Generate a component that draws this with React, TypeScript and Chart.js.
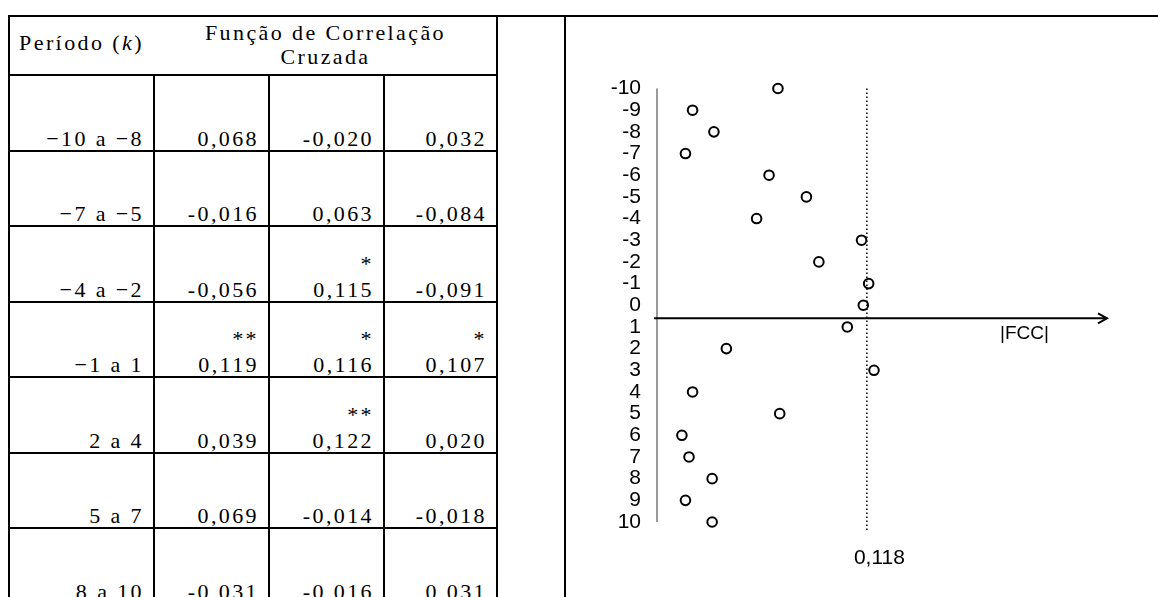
import React, { useEffect, useRef } from "react";
import { Chart, registerables } from "chart.js";

Chart.register(...registerables);

// ---------------- data ----------------
const LAGS = [-10, -9, -8, -7, -6, -5, -4, -3, -2, -1, 0, 1, 2, 3, 4, 5, 6, 7, 8, 9, 10];
const FCC = [
  0.068, -0.020, 0.032,
  -0.016, 0.063, -0.084,
  -0.056, 0.115, -0.091,
  0.119, 0.116, 0.107,
  0.039, 0.122, 0.020,
  0.069, -0.014, -0.018,
  -0.031, -0.016, 0.031,
];
const SIGNIF = [
  "", "", "",
  "", "", "",
  "", "*", "",
  "**", "*", "*",
  "", "**", "",
  "", "", "",
  "", "", "",
];
const Y_TICKS = LAGS;
const THRESHOLD = 0.118;
const THRESHOLD_LABEL = "0,118";
const AXIS_LABEL = "|FCC|";
const HEADER_PERIOD = "Período";
const HEADER_PERIOD_VAR = "k";
const HEADER_FCC = ["Função de Correlação", "Cruzada"];
const X_MAX = 0.253;
const AXIS_CROSS_K = 0.6;

// ---------------- layout ----------------
const SERIF = "'Liberation Serif', 'Times New Roman', serif";
const SANS = "'Liberation Sans', Arial, sans-serif";
const LINE = 2;
const TOP_Y = 15;
const HEADER_Y = 74;
const ROW_H = 75.5;
const COL_LINES = [8, 153, 268, 383, 496];
const DIVIDER_X = 564;
const LETTER = "2.4px";
const FONT_PX = 22;

const lineY = (i: number) => Math.round(HEADER_Y + ROW_H * i);
const fmtVal = (v: number) => v.toFixed(3).replace(".", ",");
const fmtLag = (k: number) => (k < 0 ? "\u2212" + Math.abs(k) : String(k));

const GROUPS: number[][] = [];
for (let i = 0; i < LAGS.length; i += 3) GROUPS.push([i, i + 1, i + 2]);

const bar = (left: number, top: number, width: number, height: number, key: string) => (
  <div key={key} style={{ position: "absolute", left, top, width, height, background: "#000" }} />
);

function FccChart() {
  const ref = useRef<HTMLCanvasElement | null>(null);
  useEffect(() => {
    if (!ref.current) return;
    const overlay = {
      id: "fccOverlay",
      beforeDatasetsDraw(chart: any) {
        const ctx = chart.ctx;
        const xs = chart.scales.x;
        const ys = chart.scales.y;
        const x0 = xs.getPixelForValue(0);
        const yTop = ys.getPixelForValue(Y_TICKS[0]);
        const yBot = ys.getPixelForValue(Y_TICKS[Y_TICKS.length - 1]);
        ctx.save();
        // vertical axis (gray)
        ctx.strokeStyle = "#808080";
        ctx.lineWidth = 1.6;
        ctx.beginPath();
        ctx.moveTo(x0, yTop);
        ctx.lineTo(x0, yBot);
        ctx.stroke();
        // threshold dotted line
        const xt = xs.getPixelForValue(THRESHOLD);
        ctx.strokeStyle = "#000";
        ctx.lineWidth = 1.5;
        ctx.setLineDash([1.6, 2.4]);
        ctx.beginPath();
        ctx.moveTo(xt, yTop);
        ctx.lineTo(xt, yBot + 9);
        ctx.stroke();
        ctx.setLineDash([]);
        // horizontal axis with arrow
        const ya = ys.getPixelForValue(AXIS_CROSS_K);
        const xe = xs.getPixelForValue(X_MAX);
        ctx.strokeStyle = "#000";
        ctx.lineWidth = 2;
        ctx.beginPath();
        ctx.moveTo(x0 - 3, ya);
        ctx.lineTo(xe, ya);
        ctx.stroke();
        ctx.beginPath();
        ctx.moveTo(xe - 9, ya - 5);
        ctx.lineTo(xe, ya);
        ctx.lineTo(xe - 9, ya + 5);
        ctx.stroke();
        // labels
        ctx.fillStyle = "#000";
        ctx.font = "21px " + SANS;
        ctx.textBaseline = "middle";
        ctx.textAlign = "left";
        ctx.fillText(THRESHOLD_LABEL, xt - 13, yBot + 36);
        ctx.font = "19px " + SANS;
        ctx.textAlign = "right";
        ctx.fillText(AXIS_LABEL, xe - 58, ya + 16);
        ctx.restore();
      },
    };
    const chart = new Chart(ref.current, {
      type: "scatter",
      data: {
        datasets: [
          {
            data: LAGS.map((k, i) => ({ x: Math.abs(FCC[i]), y: k })),
            pointRadius: 4.8,
            pointBorderWidth: 2,
            pointBorderColor: "#000",
            pointBackgroundColor: "rgba(0,0,0,0)",
            pointHoverRadius: 4.8,
            clip: false as any,
          },
        ],
      },
      options: {
        responsive: false,
        animation: false,
        devicePixelRatio: 1,
        layout: { padding: { left: 41, right: 51, top: 71.5, bottom: 75 } },
        plugins: { legend: { display: false }, tooltip: { enabled: false } },
        scales: {
          x: { type: "linear", min: 0, max: X_MAX, display: false },
          y: {
            type: "linear",
            min: Y_TICKS[0],
            max: Y_TICKS[Y_TICKS.length - 1],
            reverse: true,
            grid: { display: false, drawTicks: false },
            border: { display: false },
            afterFit: (axis: any) => {
              axis.width = 50;
            },
            afterBuildTicks: (axis: any) => {
              axis.ticks = Y_TICKS.map((v) => ({ value: v }));
            },
            ticks: {
              autoSkip: false,
              padding: 16,
              color: "#000",
              font: { family: SANS, size: 21 },
              callback: (v: any) => String(v),
            },
          },
        },
      },
      plugins: [overlay],
    });
    return () => chart.destroy();
  }, []);
  return (
    <canvas
      ref={ref}
      width={592}
      height={580}
      style={{ position: "absolute", left: 566, top: 17, width: 592, height: 580 }}
    />
  );
}

export default function App() {
  const lines: React.ReactNode[] = [];
  lines.push(bar(COL_LINES[0], TOP_Y, 1158 - COL_LINES[0], LINE, "top"));
  lines.push(bar(COL_LINES[0], TOP_Y, LINE, 597 - TOP_Y, "v0"));
  lines.push(bar(COL_LINES[1], HEADER_Y, LINE, 597 - HEADER_Y, "v1"));
  lines.push(bar(COL_LINES[2], HEADER_Y, LINE, 597 - HEADER_Y, "v2"));
  lines.push(bar(COL_LINES[3], HEADER_Y, LINE, 597 - HEADER_Y, "v3"));
  lines.push(bar(COL_LINES[4], TOP_Y, LINE, 597 - TOP_Y, "v4"));
  lines.push(bar(DIVIDER_X, TOP_Y, LINE, 597 - TOP_Y, "v5"));
  for (let i = 0; i <= 6; i++) {
    lines.push(bar(COL_LINES[0], lineY(i), COL_LINES[4] + LINE - COL_LINES[0], LINE, "h" + i));
  }

  const textBase: React.CSSProperties = {
    fontFamily: SERIF,
    fontSize: FONT_PX,
    letterSpacing: LETTER,
    color: "#000",
    lineHeight: "24px",
    whiteSpace: "pre",
  };

  const cells: React.ReactNode[] = [];
  GROUPS.forEach((g, r) => {
    const top = lineY(r) + LINE;
    const height = lineY(r + 1) - lineY(r);
    const cellStyle = (c: number): React.CSSProperties => ({
      position: "absolute",
      left: COL_LINES[c] + LINE,
      width: COL_LINES[c + 1] - COL_LINES[c] - LINE,
      top,
      height,
      boxSizing: "border-box",
      paddingRight: 9,
      display: "flex",
      flexDirection: "column",
      justifyContent: "flex-end",
      alignItems: "flex-end",
      ...textBase,
      lineHeight: "26px",
    });
    cells.push(
      <div key={"p" + r} style={cellStyle(0)}>
        <div>{`${fmtLag(LAGS[g[0]])} a ${fmtLag(LAGS[g[2]])}`}</div>
      </div>
    );
    g.forEach((idx, c) => {
      cells.push(
        <div key={"c" + r + "-" + c} style={cellStyle(c + 1)}>
          {SIGNIF[idx] ? <div>{SIGNIF[idx]}</div> : null}
          <div>{fmtVal(FCC[idx])}</div>
        </div>
      );
    });
  });

  return (
    <div
      style={{
        position: "fixed",
        left: 0,
        top: 0,
        width: 1158,
        height: 597,
        overflow: "hidden",
        background: "#fff",
      }}
    >
      {lines}
      <div
        style={{
          position: "absolute",
          left: COL_LINES[0] + LINE,
          width: COL_LINES[1] - COL_LINES[0] - LINE,
          top: 31,
          textAlign: "center",
          ...textBase,
        }}
      >
        {HEADER_PERIOD} (<i>{HEADER_PERIOD_VAR}</i>)
      </div>
      <div
        style={{
          position: "absolute",
          left: COL_LINES[1] + LINE,
          width: COL_LINES[4] - COL_LINES[1] - LINE,
          top: 21,
          textAlign: "center",
          ...textBase,
        }}
      >
        {HEADER_FCC.map((t, i) => (
          <div key={i}>{t}</div>
        ))}
      </div>
      {cells}
      <FccChart />
    </div>
  );
}
